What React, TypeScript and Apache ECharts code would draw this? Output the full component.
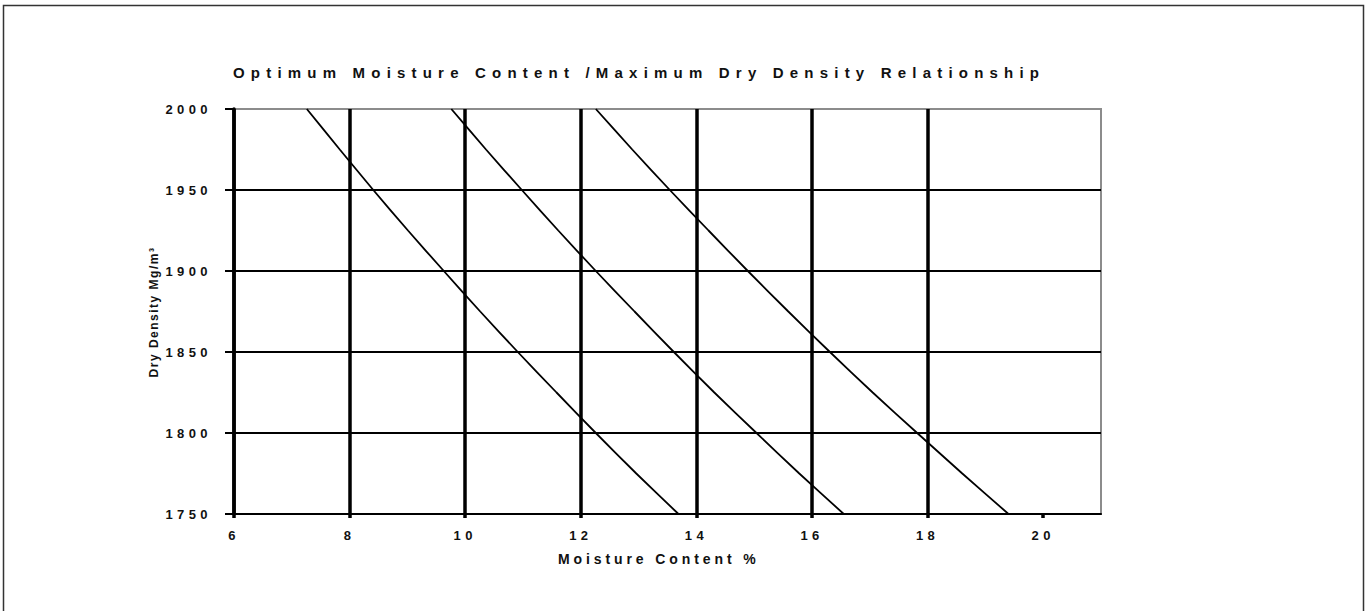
import React, { useEffect, useRef } from "react";
import * as echarts from "echarts";

// Dry density values (kg/m3) at which the lines were read
const densities = [2000, 1975, 1950, 1925, 1900, 1875, 1850, 1825, 1800, 1775, 1750];
// Moisture content (%) read for each line at the densities above
const lineA = [7.26, 7.83, 8.41, 9.01, 9.63, 10.26, 10.91, 11.58, 12.26, 12.96, 13.69];
const lineB = [9.76, 10.36, 10.98, 11.61, 12.26, 12.93, 13.61, 14.31, 15.04, 15.78, 16.55];
const lineC = [12.26, 12.89, 13.54, 14.21, 14.89, 15.59, 16.31, 17.05, 17.82, 18.6, 19.4];
// Tick labels
const xTicks = [6, 8, 10, 12, 14, 16, 18, 20];
const yTicks = [1750, 1800, 1850, 1900, 1950, 2000];

const titleText = "Optimum Moisture Content /Maximum Dry Density Relationship";
const xName = "Moisture Content %";
const yName = "Dry Density Mg/m\u00b3";

const FONT = "'Liberation Sans', Arial, sans-serif";

export default function App() {
  const ref = useRef<HTMLDivElement>(null);

  useEffect(() => {
    if (!ref.current) return;
    const chart = echarts.init(ref.current, undefined, { renderer: "svg" });
    const mk = (arr: number[]) => densities.map((d, i) => [arr[i], d]);
    const lineSeries = [lineA, lineB, lineC].map((arr) => ({
      type: "line" as const,
      data: mk(arr),
      showSymbol: false,
      silent: true,
      clip: true,
      smooth: 0.2,
      lineStyle: { color: "#000", width: 1.8 },
    }));
    chart.setOption({
      animation: false,
      backgroundColor: "#fff",
      grid: {
        left: 234,
        top: 109,
        width: 867,
        height: 405,
        show: true,
        borderColor: "#8c8c8c",
        borderWidth: 2,
        backgroundColor: "transparent",
        containLabel: false,
        outerBoundsMode: "none",
      },
      xAxis: {
        type: "value",
        min: 6,
        max: 21,
        interval: 2,
        axisLine: { show: true, onZero: false, lineStyle: { color: "#000", width: 2 } },
        axisTick: { show: true, length: 4, customValues: xTicks, lineStyle: { color: "#000", width: 3.5 } },
        axisLabel: {
          customValues: xTicks,
          margin: 15,
          color: "#111",
          fontSize: 13,
          fontWeight: "bold",
          fontFamily: FONT,
          formatter: (v: number) => String(v),
        },
        splitLine: { show: true, showMaxLine: false, lineStyle: { color: "#000", width: 3.5 } },
      },
      yAxis: {
        type: "value",
        min: 1750,
        max: 2000,
        interval: 50,
        axisLine: { show: true, lineStyle: { color: "#000", width: 3.5 } },
        axisTick: { show: true, length: 9, customValues: yTicks, lineStyle: { color: "#000", width: 2 } },
        axisLabel: {
          customValues: yTicks,
          margin: 22,
          color: "#111",
          fontSize: 13,
          fontWeight: "bold",
          fontFamily: FONT,
          formatter: (v: number) => String(v),
        },
        splitLine: { show: true, showMaxLine: false, lineStyle: { color: "#000", width: 2 } },
      },
      graphic: [
        {
          type: "rect",
          silent: true,
          z: -10,
          shape: { x: 3.5, y: 5.5, width: 1360, height: 640 },
          style: { fill: "none", stroke: "#333", lineWidth: 1.5 },
        },
        {
          type: "text",
          x: 233,
          y: 72,
          silent: true,
          style: {
            text: titleText,
            fill: "#111",
            font: `bold 15px ${FONT}`,
            textAlign: "left",
            textVerticalAlign: "middle",
          },
        },
        {
          type: "text",
          x: 558,
          y: 559,
          silent: true,
          style: {
            text: xName,
            fill: "#111",
            font: `bold 14px ${FONT}`,
            textAlign: "left",
            textVerticalAlign: "middle",
          },
        },
        {
          type: "text",
          x: 154,
          y: 312,
          rotation: Math.PI / 2,
          silent: true,
          style: {
            text: yName,
            fill: "#111",
            font: `bold 12px ${FONT}`,
            textAlign: "center",
            textVerticalAlign: "middle",
          },
        },
      ],
      series: lineSeries,
    });
    return () => chart.dispose();
  }, []);

  return (
    <>
      <style>{`
        .mdd text[style*="15px"] { letter-spacing: 6.2px; }
        .mdd text[style*="14px"] { letter-spacing: 3.9px; }
        .mdd text[style*="13px"] { letter-spacing: 4.4px; }
        .mdd text[style*="12px"] { letter-spacing: 1.5px; }
      `}</style>
      <div
        ref={ref}
        className="mdd"
        style={{ position: "absolute", left: 0, top: 0, width: 1369, height: 611, background: "#fff" }}
      />
    </>
  );
}
